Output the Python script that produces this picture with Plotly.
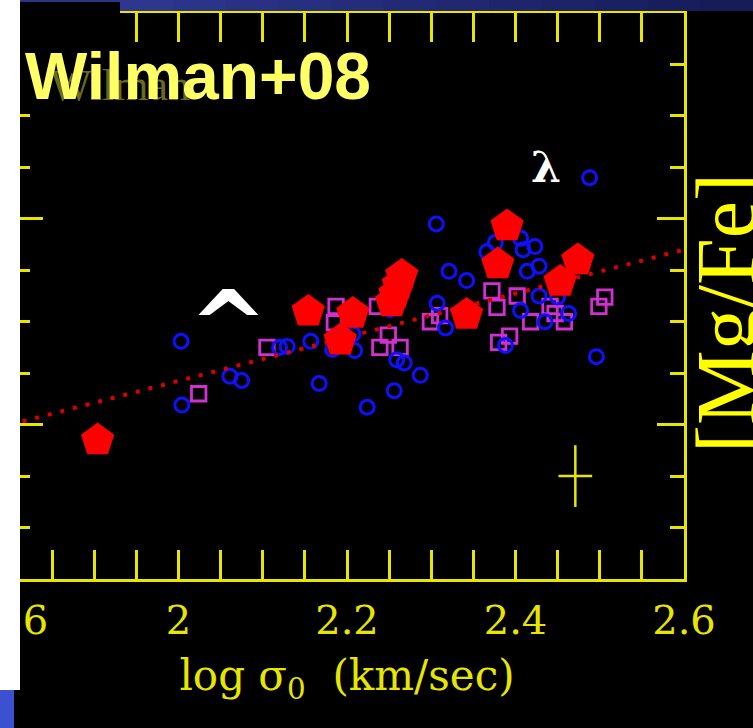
import plotly.graph_objects as go

# ---------------- data ----------------
# blue open circles
circ_x = [2.003, 2.004, 2.061, 2.075, 2.120, 2.129, 2.157, 2.167, 2.183, 2.209,
          2.207, 2.224, 2.256, 2.259, 2.268, 2.287, 2.251, 2.306, 2.321, 2.342,
          2.307, 2.317, 2.366, 2.376, 2.406, 2.409, 2.423, 2.414, 2.428, 2.428,
          2.406, 2.435, 2.463, 2.488, 2.496, 2.388, 2.450]
circ_y = [0.081, 0.019, 0.047, 0.043, 0.075, 0.076, 0.081, 0.040, 0.073, 0.072,
          0.088, 0.017, 0.033, 0.063, 0.060, 0.048, 0.112, 0.195, 0.149, 0.140,
          0.118, 0.094, 0.168, 0.177, 0.181, 0.170, 0.173, 0.149, 0.154, 0.125,
          0.111, 0.100, 0.108, 0.240, 0.066, 0.077, 0.124]

# magenta open squares
sq_x = [2.024, 2.105, 2.187, 2.185, 2.236, 2.249, 2.239, 2.263, 2.299, 2.310,
        2.372, 2.378, 2.402, 2.380, 2.393, 2.418, 2.441, 2.447, 2.458, 2.499, 2.506]
sq_y = [0.030, 0.075, 0.115, 0.099, 0.115, 0.087, 0.075, 0.075, 0.100, 0.106,
        0.130, 0.114, 0.125, 0.080, 0.086, 0.100, 0.115, 0.108, 0.100, 0.115, 0.124]

# red filled pentagons
pent_x = [1.904, 2.154, 2.207, 2.192, 2.265, 2.261, 2.257, 2.253, 2.342, 2.390,
          2.379, 2.453, 2.474]
pent_y = [-0.015, 0.110, 0.108, 0.082, 0.145, 0.136, 0.127, 0.119, 0.107, 0.193,
          0.156, 0.139, 0.160]

# dotted fit line
fit_x = [1.8, 2.6]
fit_y = [0.0, 0.17]

# typical error cross
err_x = [2.471]
err_y = [-0.050]
err_dx = 0.020
err_dy = 0.030

x_range = [1.8, 2.6]
y_range = [-0.15, 0.4]
xtick_vals = [1.8, 2.0, 2.2, 2.4, 2.6]
xtick_text = ["&nbsp;1.6", "2", "2.2", "2.4", "2.6"]

# ---------------- layout helpers (pixel -> paper) ----------------
W, H = 753, 728
L, R, T, B = 10, 69, 13, 149
PW, PH = W - L - R, H - T - B


def px(x):
    return (x - L) / PW


def py(y):
    return (H - B - y) / PH


YEL = "#E6E600"

fig = go.Figure()

fig.add_trace(go.Scatter(
    x=sq_x, y=sq_y, mode="markers", name="squares",
    marker=dict(symbol="square-open", size=14.5, color="#D030D0",
                line=dict(width=2.8, color="#D030D0"))))

fig.add_trace(go.Scatter(
    x=circ_x, y=circ_y, mode="markers", name="circles",
    marker=dict(symbol="circle-open", size=14, color="#1010FF",
                line=dict(width=3, color="#1010FF"))))

fig.add_trace(go.Scatter(
    x=fit_x, y=fit_y, mode="lines", name="fit",
    line=dict(color="#D80000", width=4, dash="4px,9px")))

fig.add_trace(go.Scatter(
    x=pent_x, y=pent_y, mode="markers", name="pentagons",
    marker=dict(symbol="pentagon", size=35, color="#FF0000",
                line=dict(width=0))))

fig.add_trace(go.Scatter(
    x=err_x, y=err_y, mode="markers", name="error", yaxis="y2",
    marker=dict(size=1, color="rgba(0,0,0,0)"),
    error_x=dict(type="constant", value=err_dx, color=YEL, thickness=2.5, width=0),
    error_y=dict(type="constant", value=err_dy, color=YEL, thickness=2.5, width=0)))

shapes = []
# top-left black cover
shapes.append(dict(type="rect", xref="paper", yref="paper", layer="above",
                   x0=px(20), x1=px(120), y0=py(100), y1=py(2),
                   fillcolor="black", line=dict(width=0)))
# thin blue band at top-left
shapes.append(dict(type="rect", xref="paper", yref="paper", layer="above",
                   x0=px(20), x1=px(120), y0=py(2), y1=py(0),
                   fillcolor="rgb(44,52,140)", line=dict(width=0)))
# blue gradient bar along the top
n = 12
for i in range(n):
    a = 120 + (753 - 120) * i / n
    b = 120 + (753 - 120) * (i + 1) / n
    t = i / (n - 1)
    r = round(46 - 24 * t)
    g = round(54 - 26 * t)
    bl = round(142 - 54 * t)
    shapes.append(dict(type="rect", xref="paper", yref="paper", layer="above",
                       x0=px(a), x1=px(b) + 0.001, y0=py(11), y1=py(0),
                       fillcolor=f"rgb({r},{g},{bl})", line=dict(width=0)))
# white strip at the left
shapes.append(dict(type="rect", xref="paper", yref="paper", layer="above",
                   x0=px(0), x1=px(20), y0=py(690), y1=py(0),
                   fillcolor="white", line=dict(width=0)))
# blue square at bottom-left
shapes.append(dict(type="rect", xref="paper", yref="paper", layer="above",
                   x0=px(0), x1=px(14), y0=py(728), y1=py(690),
                   fillcolor="rgb(60,80,210)", line=dict(width=0)))

annotations = [
    dict(text="Wilman", xref="paper", yref="paper", x=px(120), y=py(85),
         xanchor="center", yanchor="middle", showarrow=False,
         font=dict(family="Liberation Serif", size=44, color="#6a6a24")),
    dict(text="Wilman+08", xref="paper", yref="paper", x=px(23), y=py(76),
         xanchor="left", yanchor="middle", showarrow=False,
         font=dict(family="Liberation Sans", size=66, color="#FFFF66", weight="bold")),
    dict(text="^", xref="paper", yref="paper", x=px(228), y=py(326),
         xanchor="center", yanchor="middle", showarrow=False,
         font=dict(family="DejaVu Sans", size=94, color="white", weight="bold")),
    dict(text="λ", xref="paper", yref="paper", x=px(546), y=py(167),
         xanchor="center", yanchor="middle", showarrow=False,
         font=dict(family="DejaVu Serif", size=43, color="white", weight="bold")),
    dict(text="[Mg/Fe]", xref="paper", yref="paper", x=px(726), y=py(313),
         xanchor="center", yanchor="middle", showarrow=False, textangle=-90,
         font=dict(family="Liberation Serif", size=84, color="#FFFF00")),
]

fig.update_layout(
    width=W, height=H,
    margin=dict(l=L, r=R, t=T, b=B, pad=0, autoexpand=False),
    paper_bgcolor="black", plot_bgcolor="black",
    showlegend=False,
    shapes=shapes, annotations=annotations,
    xaxis=dict(
        range=x_range, showgrid=False, zeroline=False, automargin=False,
        showline=True, linecolor=YEL, linewidth=3, mirror="allticks",
        ticks="inside", ticklen=29, tickwidth=3, tickcolor=YEL,
        tickmode="array", tickvals=xtick_vals, ticktext=xtick_text,
        ticklabeloverflow="allow",
        minor=dict(ticks="inside", ticklen=14, tickwidth=3, tickcolor=YEL,
                   tickmode="linear", tick0=1.8, dtick=0.05),
        tickfont=dict(family="DejaVu Serif", size=40, color=YEL),
        ticklabelstandoff=4,
        title=dict(text="log σ<sub>0</sub>&nbsp;&nbsp;(km/sec)", standoff=19,
                   font=dict(family="DejaVu Serif", size=42, color=YEL)),
    ),
    yaxis=dict(
        range=y_range, showgrid=False, zeroline=False, automargin=False,
        showline=True, linecolor=YEL, linewidth=3, mirror=False,
        ticks="inside", ticklen=33, tickwidth=3, tickcolor=YEL,
        tickmode="linear", tick0=0, dtick=0.2, showticklabels=False,
        minor=dict(ticks="inside", ticklen=20, tickwidth=3, tickcolor=YEL,
                   tickmode="linear", tick0=0, dtick=0.05),
    ),
    yaxis2=dict(
        range=y_range, overlaying="y", side="right", showgrid=False, zeroline=False,
        automargin=False,
        showline=True, linecolor=YEL, linewidth=3,
        ticks="inside", ticklen=27, tickwidth=3, tickcolor=YEL,
        tickmode="linear", tick0=0, dtick=0.2, showticklabels=False,
        minor=dict(ticks="inside", ticklen=14, tickwidth=3, tickcolor=YEL,
                   tickmode="linear", tick0=0, dtick=0.05),
    ),
)

fig.write_html(
    "out.html",
    config={"displayModeBar": False},
    post_script="document.body.style.margin='0';"
                "document.body.style.padding='0';"
                "document.body.style.overflow='hidden';"
                "document.body.style.background='black';",
)
